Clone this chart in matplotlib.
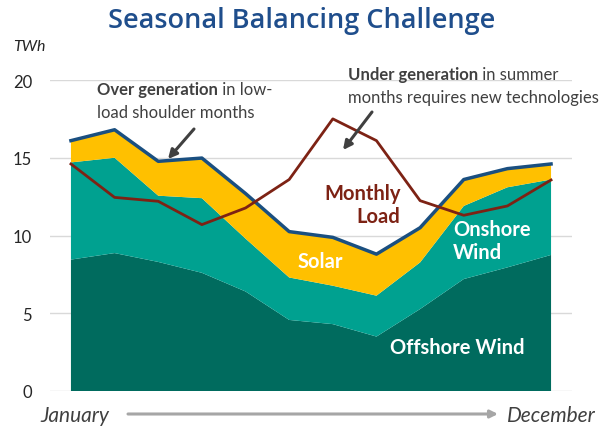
import matplotlib.pyplot as plt
import numpy as np

# monthly values, TWh
months = ['Jan', 'Feb', 'Mar', 'Apr', 'May', 'Jun', 'Jul', 'Aug', 'Sep', 'Oct', 'Nov', 'Dec']
offshore = [8.45, 8.87, 8.3, 7.6, 6.4, 4.57, 4.3, 3.5, 5.27, 7.2, 7.95, 8.75]
onshore = [6.25, 6.13, 4.26, 4.8, 3.4, 2.73, 2.47, 2.63, 3.0, 4.7, 5.15, 4.85]
solar = [1.4, 1.8, 2.21, 2.58, 2.9, 2.95, 3.11, 2.67, 2.23, 1.7, 1.2, 1.0]
load = [14.6, 12.45, 12.2, 10.7, 11.77, 13.6, 17.5, 16.1, 12.24, 11.3, 11.9, 13.57]
yticks = [0, 5, 10, 15, 20]

c_off = '#006b5e'
c_on = '#00a190'
c_sol = '#ffc000'
c_tot = '#1a4f80'
c_load = '#7d2214'
c_txt = '#404040'
lab_font = ['Lato', 'DejaVu Sans']

fig = plt.figure(figsize=(6.13, 4.27), dpi=100)
ax = fig.add_axes([50/613, 35/427, 522/613, 311/427])

x = np.arange(len(months))
ax.stackplot(x, offshore, onshore, solar, colors=[c_off, c_on, c_sol], zorder=2)
total = np.array(offshore) + np.array(onshore) + np.array(solar)
ax.plot(x, total, color=c_tot, lw=2.5, zorder=3)
ax.plot(x, load, color=c_load, lw=2.0, zorder=4)

ax.set_xlim(-0.48, 11.48)
ax.set_ylim(0, 20)
ax.set_yticks(yticks)
ax.set_xticks([])
ax.yaxis.grid(True, color='#d9d9d9', lw=1)
ax.set_axisbelow(True)
for s in ax.spines.values():
    s.set_visible(False)
ax.tick_params(axis='y', length=0, pad=13, labelsize=12, labelcolor='#262626')
for lab in ax.get_yticklabels():
    lab.set_family(lab_font)

fig.text(13/613, 1 - 47/427, 'TWh', fontsize=11.5, style='italic', color='#262626',
         family=lab_font, va='center', ha='left')
fig.text(302/613, 1 - 21/427, 'Seasonal Balancing Challenge', fontsize=19.5,
         weight='semibold', family=['Open Sans', 'DejaVu Sans'],
         color='#1f4e8c', ha='center', va='center')

# annotations with bold lead-in
def mixed(xf, yf, bold, rest, line2):
    t = fig.text(xf, yf, bold, fontsize=12, weight='bold', color=c_txt,
                 family=lab_font, va='baseline', ha='left')
    fig.canvas.draw()
    ax.annotate(rest, xy=(1, 0), xycoords=t, fontsize=12, color=c_txt,
                family=lab_font, va='bottom', ha='left')
    fig.text(xf, yf - 23/427, line2, fontsize=12, color=c_txt,
             family=lab_font, va='baseline', ha='left')

mixed(97/613, 1 - 95/427, 'Over generation', ' in low-', 'load shoulder months')
mixed(348/613, 1 - 80/427, 'Under generation', ' in summer', 'months requires new technologies')

arr = dict(arrowstyle='-|>', color='#404040', lw=2.2, mutation_scale=13, shrinkA=0, shrinkB=0)
fig.add_artist(plt.Annotation('', xy=(168/613, 1 - 160/427), xytext=(194/613, 1 - 130/427),
                              xycoords='figure fraction', arrowprops=arr))
fig.add_artist(plt.Annotation('', xy=(343/613, 1 - 151/427), xytext=(372/613, 1 - 113/427),
                              xycoords='figure fraction', arrowprops=arr))

lab_kw = dict(fontsize=14.5, weight='bold', family=lab_font, va='center', linespacing=1.2)
ax.text(7.55, 12.0, 'Monthly\nLoad', color=c_load, ha='right', **lab_kw)
ax.text(5.2, 8.36, 'Solar', color='white', ha='left', **lab_kw)
ax.text(8.76, 9.7, 'Onshore\nWind', color='white', ha='left', **lab_kw)
ax.text(7.31, 2.8, 'Offshore Wind', color='white', ha='left', **lab_kw)

fig.text(40/613, 1 - 416/427, 'January', fontsize=15, style='italic', color=c_txt,
         family=lab_font, ha='left', va='center')
fig.text(596/613, 1 - 416/427, 'December', fontsize=15, style='italic', color=c_txt,
         family=lab_font, ha='right', va='center')
fig.add_artist(plt.Annotation('', xy=(498/613, 1 - 415/427), xytext=(128/613, 1 - 415/427),
                              xycoords='figure fraction',
                              arrowprops=dict(arrowstyle='-|>', color='#a6a6a6', lw=2.2,
                                              mutation_scale=11, shrinkA=0, shrinkB=0)))

fig.savefig('out.png', dpi=100)
